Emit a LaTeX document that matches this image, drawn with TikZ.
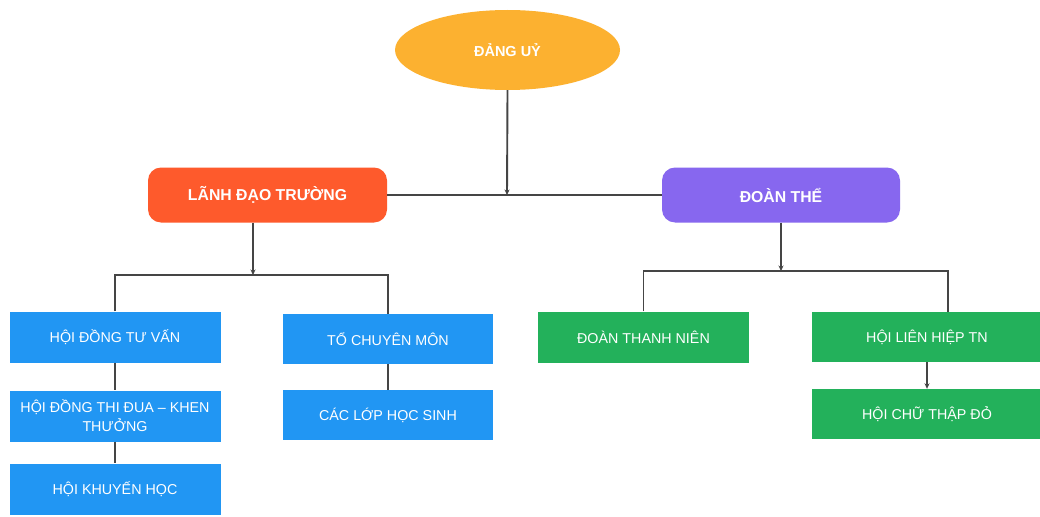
\documentclass[tikz,border=0pt]{standalone}
\usepackage{fontspec}
\setmainfont{Liberation Sans}
\usetikzlibrary{shapes.geometric,arrows.meta}
\definecolor{cYellow}{HTML}{FCB130}
\definecolor{cRed}{HTML}{FE5A2C}
\definecolor{cPurple}{HTML}{8767EF}
\definecolor{cBlue}{HTML}{2196F3}
\definecolor{cGreen}{HTML}{23B15B}
\definecolor{cLine}{HTML}{454545}
\tikzset{
  box/.style={rectangle, inner sep=0pt, text=white, align=center,
    font=\fontsize{14.3}{19}\selectfont},
  bluebox/.style={box, fill=cBlue, minimum width=211pt, minimum height=51pt},
  greenbox/.style={box, fill=cGreen, minimum height=51pt},
  headbox/.style={rectangle, rounded corners=13pt, inner sep=0pt, text=white,
    font=\bfseries\fontsize{15.8}{18}\selectfont, minimum height=55pt},
  conn/.style={draw=cLine, line width=1.9pt},
  arr/.style={conn, -{Stealth[length=5.5pt,width=5pt]}}
}
\begin{document}
\begin{tikzpicture}[x=1pt,y=-1pt]
\useasboundingbox (0,0) rectangle (1040,516);
\clip (0,0) rectangle (1040,516);
\fill[white] (0,0) rectangle (1040,516);

% nodes
\node[ellipse, fill=cYellow, minimum width=225pt, minimum height=80pt, inner sep=0pt,
  text=white, font=\bfseries\fontsize{14.5}{16}\selectfont] (dang) at (507.5,50) {ĐẢNG UỶ};
\node[headbox, fill=cRed, minimum width=239pt] (ld) at (267.5,195) {LÃNH ĐẠO TRƯỜNG};
\node[headbox, fill=cPurple, minimum width=238pt] (dt) at (781,195) {ĐOÀN THỂ};

\node[bluebox] (hdtv) at (115,337) {HỘI ĐỒNG TƯ VẤN};
\node[bluebox] (hdtd) at (115,416) {HỘI ĐỒNG THI ĐUA – KHEN\\THƯỞNG};
\node[bluebox] (hkh) at (115,489) {HỘI KHUYẾN HỌC};
\node[bluebox, minimum width=210pt, minimum height=50pt] (tcm) at (388,339) {TỔ CHUYÊN MÔN};
\node[bluebox, minimum width=210pt, minimum height=50pt] (clhs) at (388,415) {CÁC LỚP HỌC SINH};

\node[greenbox, minimum width=211pt] (dtn) at (643.5,337) {ĐOÀN THANH NIÊN};
\node[greenbox, minimum width=230pt, minimum height=50pt] (hlh) at (927,337) {HỘI LIÊN HIỆP TN};
\node[greenbox, minimum width=230pt, minimum height=50pt] (hctd) at (927,414) {HỘI CHỮ THẬP ĐỎ};

% junction coordinates
\coordinate (j1) at (507,195);
\coordinate (j2) at (253,275);
\coordinate (j3) at (781,271);
\coordinate (k) at (948,271);

% connectors
\draw[conn] (ld.east) -- (dt.west);
\draw[arr] (dang.south) -- (j1);

\draw[arr] (ld.south -| j2) -- (j2);
\draw[conn] (hdtv.north) -- (hdtv.north |- j2) -- (tcm.north |- j2) -- (tcm.north);
\draw[conn] (hdtv.south) -- (hdtd.north);
\draw[conn] (hdtd.south) -- (hkh.north);
\draw[conn] (tcm.south) -- (clhs.north);

\draw[arr] (dt.south) -- (j3);
\draw[conn] (dtn.north) |- (k) -- (k |- hlh.north);
\draw[arr] (hlh.south) -- (hctd.north);
\end{tikzpicture}
\end{document}
